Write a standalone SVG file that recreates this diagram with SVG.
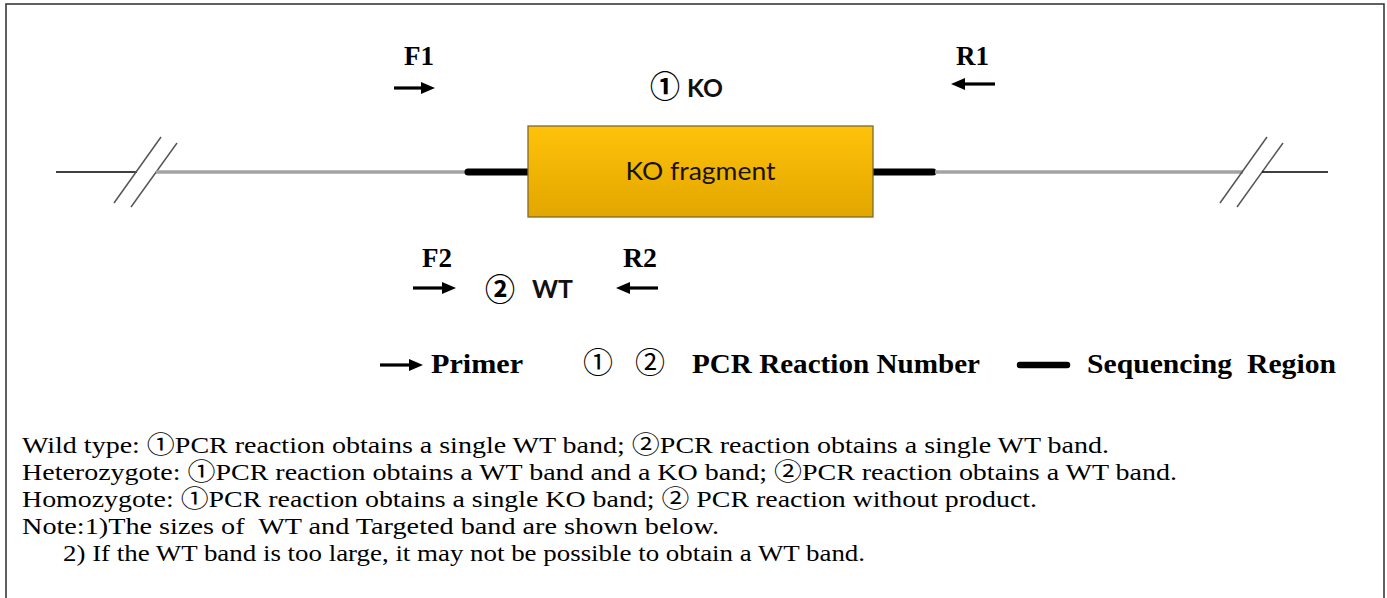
<svg xmlns="http://www.w3.org/2000/svg" width="1387" height="598" viewBox="0 0 1387 598">
  <defs>
    <linearGradient id="gold" x1="0" y1="0" x2="0" y2="1">
      <stop offset="0" stop-color="#FFC20A"/>
      <stop offset="1" stop-color="#E2A600"/>
    </linearGradient>
    <marker id="ah" markerUnits="userSpaceOnUse" markerWidth="15" markerHeight="13" refX="0" refY="6" orient="auto">
      <path d="M0,0 L14,6 L0,12 z" fill="#000"/>
    </marker>
  </defs>
  <style>
    .lbl { font-family: "Liberation Serif", "Times New Roman", serif; font-weight: bold; font-size: 27px; fill: #000; }
    .sans { font-family: Lato, "Open Sans", "Noto Sans CJK SC", sans-serif; font-weight: bold; font-size: 25px; fill: #111; }
    .circ { font-family: "Noto Sans CJK SC", sans-serif; font-size: 30px; fill: #000; }
    .body { font-family: "Liberation Serif", "Noto Sans CJK SC", serif; font-size: 24px; fill: #000; }
    .arrow { stroke: #000; stroke-width: 3.2; fill: none; marker-end: url(#ah); }
    .slash { stroke: #555; stroke-width: 1.5; }
    .thin { stroke: #000; stroke-width: 1.6; }
    .gray { stroke: #a3a3a3; stroke-width: 3.5; }
    .seq { stroke: #000; stroke-width: 7; stroke-linecap: round; }
  </style>
  <rect x="0" y="0" width="1387" height="598" fill="#fff"/>
  <rect id="frame" x="6" y="4" width="1378" height="610" fill="none" stroke="#3a3a3a" stroke-width="1.6"/>

  <g id="dna-line">
    <line class="thin" x1="56" y1="172" x2="137" y2="172"/>
    <line class="slash" x1="114" y1="203" x2="161" y2="137"/>
    <line class="slash" x1="131" y1="207" x2="177" y2="143"/>
    <line class="gray" x1="156" y1="172" x2="466" y2="172"/>
    <line class="seq" x1="468" y1="172" x2="528" y2="172"/>
    <line class="seq" x1="873" y1="172" x2="933" y2="172"/>
    <line class="gray" x1="935" y1="172" x2="1243" y2="172"/>
    <line class="slash" x1="1220" y1="203" x2="1267" y2="137"/>
    <line class="slash" x1="1237" y1="207" x2="1283" y2="143"/>
    <line class="thin" x1="1262" y1="172" x2="1328" y2="172"/>
  </g>

  <g id="ko-fragment">
    <rect x="528" y="126" width="345" height="91" fill="url(#gold)" stroke="#7d6a2e" stroke-width="1.3"/>
    <text x="700.5" y="180" text-anchor="middle" font-family="Lato, 'Open Sans', sans-serif" font-size="25" fill="#1a1200" textLength="150" lengthAdjust="spacingAndGlyphs">KO fragment</text>
  </g>

  <g id="connectors">
    <line class="arrow" x1="394" y1="88" x2="421" y2="88"/>
    <line class="arrow" x1="995" y1="84" x2="965" y2="84"/>
    <line class="arrow" x1="413" y1="288" x2="442" y2="288"/>
    <line class="arrow" x1="658" y1="288" x2="630" y2="288"/>
  </g>

  <g id="primer-F1"><text class="lbl" x="404" y="65" textLength="30" lengthAdjust="spacingAndGlyphs">F1</text></g>
  <g id="primer-R1"><text class="lbl" x="956" y="65" textLength="33" lengthAdjust="spacingAndGlyphs">R1</text></g>
  <g id="primer-F2"><text class="lbl" x="422" y="267" textLength="30" lengthAdjust="spacingAndGlyphs">F2</text></g>
  <g id="primer-R2"><text class="lbl" x="623" y="267" textLength="34" lengthAdjust="spacingAndGlyphs">R2</text></g>

  <g id="reaction-1-KO">
    <text class="circ" x="650" y="97" font-weight="bold">①</text>
    <text class="sans" x="687" y="97" textLength="36" lengthAdjust="spacingAndGlyphs">KO</text>
  </g>
  <g id="reaction-2-WT">
    <text class="circ" x="485" y="300" font-size="29" font-weight="bold">②</text>
    <text class="sans" x="532" y="298" textLength="41" lengthAdjust="spacingAndGlyphs">WT</text>
  </g>

  <g id="legend">
    <line class="arrow" x1="380" y1="365" x2="409" y2="365"/>
    <text class="lbl" x="431" y="373" textLength="92" lengthAdjust="spacingAndGlyphs">Primer</text>
    <text class="circ" x="583" y="373">①</text>
    <text class="circ" x="635" y="373">②</text>
    <text class="lbl" x="692" y="373" textLength="288" lengthAdjust="spacingAndGlyphs">PCR Reaction Number</text>
    <line x1="1020" y1="365" x2="1067" y2="365" stroke="#000" stroke-width="6.5" stroke-linecap="round"/>
    <text class="lbl" x="1087" y="373" textLength="249" lengthAdjust="spacingAndGlyphs" xml:space="preserve">Sequencing  Region</text>
  </g>

  <g id="notes">
    <text class="body" x="22" y="453" textLength="1087" lengthAdjust="spacingAndGlyphs">Wild type: ①PCR reaction obtains a single WT band; ②PCR reaction obtains a single WT band.</text>
    <text class="body" x="22" y="480" textLength="1155" lengthAdjust="spacingAndGlyphs">Heterozygote: ①PCR reaction obtains a WT band and a KO band; ②PCR reaction obtains a WT band.</text>
    <text class="body" x="22" y="507" textLength="1015" lengthAdjust="spacingAndGlyphs">Homozygote: ①PCR reaction obtains a single KO band; ② PCR reaction without product.</text>
    <text class="body" x="22" y="534" textLength="697" lengthAdjust="spacingAndGlyphs" xml:space="preserve">Note:1)The sizes of  WT and Targeted band are shown below.</text>
    <text class="body" x="63" y="561" textLength="802" lengthAdjust="spacingAndGlyphs">2) If the WT band is too large, it may not be possible to obtain a WT band.</text>
  </g>
</svg>
